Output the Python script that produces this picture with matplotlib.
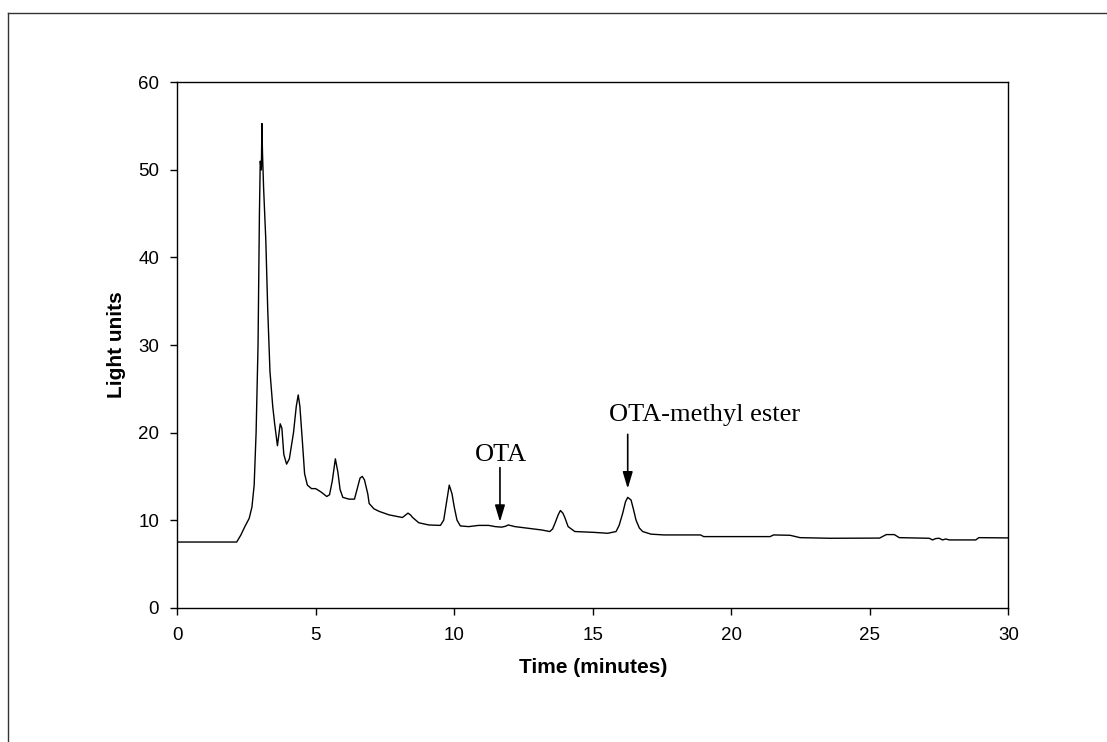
import matplotlib
matplotlib.use('Agg')
import matplotlib.pyplot as plt
from matplotlib.lines import Line2D

# chromatogram trace (time in minutes, light units)
time_min = [0.0, 2.15, 2.3, 2.45, 2.6, 2.7, 2.78, 2.85, 2.92, 2.97, 3.0, 3.04,
            3.06, 3.08, 3.12, 3.2, 3.27, 3.35, 3.45, 3.52, 3.62, 3.72, 3.78,
            3.85, 3.95, 4.05, 4.2, 4.3, 4.37, 4.43, 4.52, 4.6, 4.7, 4.85, 5.0,
            5.2, 5.4, 5.5, 5.6, 5.71, 5.8, 5.88, 5.98, 6.2, 6.4, 6.5, 6.6,
            6.68, 6.76, 6.88, 6.93, 7.1, 7.29, 7.65, 8.13, 8.25, 8.33, 8.42,
            8.5, 8.72, 9.08, 9.5, 9.62, 9.72, 9.82, 9.92, 10.0, 10.1, 10.22,
            10.52, 10.88, 11.24, 11.48, 11.71, 11.85, 11.95, 12.19, 12.67,
            13.15, 13.45, 13.55, 13.63, 13.75, 13.83, 13.92, 13.99, 14.11,
            14.35, 15.06, 15.54, 15.84, 15.95, 16.08, 16.18, 16.26, 16.38,
            16.47, 16.56, 16.68, 16.8, 17.1, 17.57, 18.89, 19.0, 21.4, 21.52,
            22.12, 22.48, 23.55, 25.35, 25.5, 25.59, 25.88, 26.06, 27.14,
            27.26, 27.38, 27.5, 27.62, 27.74, 27.86, 28.82, 28.93, 30.0]
light = [7.5, 7.5, 8.3, 9.3, 10.2, 11.5, 14.0, 20.0, 30.0, 45.0, 51.0, 50.0,
         55.3, 52.0, 48.0, 42.0, 34.0, 27.0, 23.0, 21.0, 18.5, 21.0, 20.5,
         17.5, 16.4, 17.0, 20.0, 23.0, 24.3, 23.0, 19.0, 15.3, 14.0, 13.6, 13.6,
         13.2, 12.7, 12.9, 14.5, 17.0, 15.5, 13.5, 12.6, 12.4, 12.4, 13.6, 14.8,
         15.0, 14.6, 13.0, 11.9, 11.3, 11.0, 10.6, 10.3, 10.6, 10.8, 10.6,
         10.3, 9.7, 9.45, 9.4, 10.0, 12.0, 14.0, 13.0, 11.5, 10.0, 9.34,
         9.26, 9.4, 9.4, 9.26, 9.2, 9.3, 9.45, 9.26, 9.07,
         8.88, 8.7, 9.0, 9.6, 10.6, 11.1, 10.8, 10.3, 9.26,
         8.7, 8.6, 8.5, 8.7, 9.4, 10.8, 12.1, 12.6, 12.3,
         11.2, 10.0, 9.1, 8.7, 8.4, 8.31, 8.31, 8.12, 8.12, 8.31,
         8.27, 8.0, 7.93, 7.95, 8.2, 8.35, 8.35, 8.0, 7.93,
         7.74, 7.9, 7.93, 7.74, 7.85, 7.74, 7.74, 8.0, 7.97]

x_ticks = [0, 5, 10, 15, 20, 25, 30]
y_ticks = [0, 10, 20, 30, 40, 50, 60]

fig = plt.figure(figsize=(11.07, 7.42), dpi=100)
ax = fig.add_axes([0.160, 0.181, 0.751, 0.708])

ax.plot(time_min, light, color='black', lw=1.0)

ax.set_xlim(0, 30)
ax.set_ylim(0, 60)
ax.set_xticks(x_ticks)
ax.set_yticks(y_ticks)
ax.tick_params(direction='out', length=5, width=1, labelsize=13.5,
               top=False, right=False)
ax.tick_params(axis='x', pad=9)
ax.tick_params(axis='y', pad=8)
for lab in ax.get_xticklabels() + ax.get_yticklabels():
    lab.set_family('Liberation Sans')
for sp in ax.spines.values():
    sp.set_linewidth(1)

ax.set_xlabel('Time (minutes)', family='Liberation Sans', weight='bold',
              fontsize=15, labelpad=10)
ax.set_ylabel('Light units', family='Liberation Sans', weight='bold',
              fontsize=15, labelpad=9)

arrow = dict(arrowstyle='-|>,head_length=1.0,head_width=0.3',
             color='black', lw=1.2, shrinkA=0, shrinkB=0)
ax.annotate('', xy=(11.65, 9.8), xytext=(11.65, 16.0), arrowprops=arrow,
            annotation_clip=False)
ax.text(11.68, 16.7, 'OTA', ha='center', va='baseline',
        family='Liberation Serif', fontsize=19)
ax.annotate('', xy=(16.26, 13.6), xytext=(16.26, 19.8), arrowprops=arrow)
ax.text(15.6, 21.3, 'OTA-methyl ester', ha='left', va='baseline',
        family='Liberation Serif', fontsize=19)

# outer frame of the scanned figure (top and left edges only)
x0, y0 = 8 / 1107, 1 - 13 / 742
fig.add_artist(Line2D([x0, 1.0], [y0, y0], transform=fig.transFigure,
                      color='#333333', lw=1))
fig.add_artist(Line2D([x0, x0], [0.0, y0], transform=fig.transFigure,
                      color='#333333', lw=1))

fig.savefig('out.png', dpi=100)
